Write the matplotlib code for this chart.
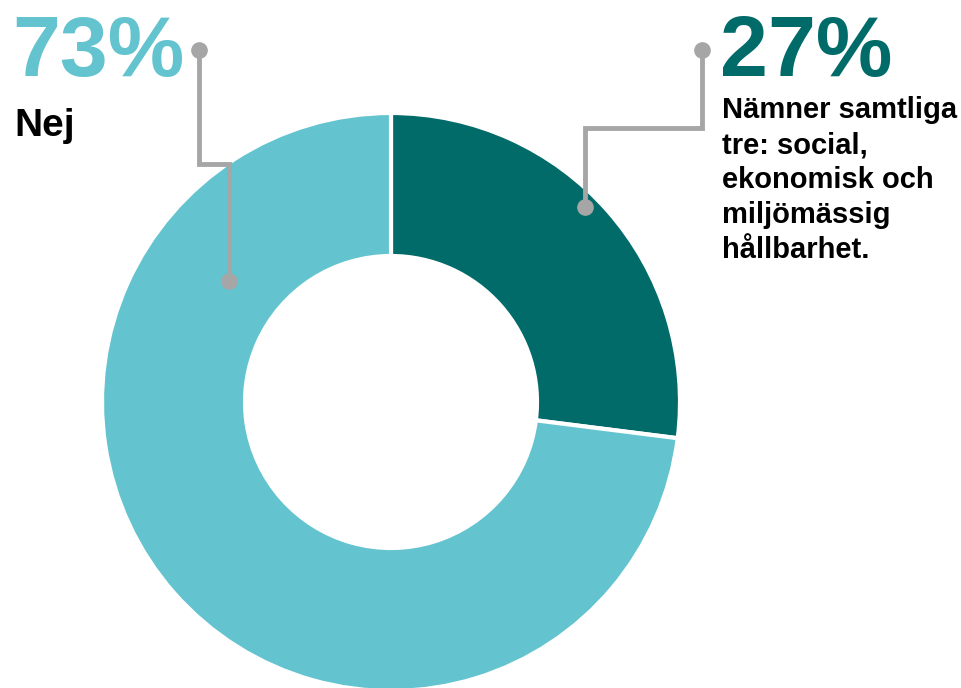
import matplotlib.pyplot as plt

# data
labels = ["Nämner samtliga tre", "Nej"]
values = [27, 73]
colors = ["#006B68", "#63C4CF"]
pct_labels = ["27%", "73%"]
desc_labels = ["Nämner samtliga\ntre: social,\nekonomisk och\nmiljömässig\nhållbarhet.", "Nej"]

W, H = 961, 688
fig = plt.figure(figsize=(W / 100, H / 100), dpi=100)
ax = fig.add_axes([0, 0, 1, 1])

cx, cy = 391, H - 402
ax.pie(values, colors=colors, startangle=90, counterclock=False,
       center=(cx, cy), radius=289, frame=True,
       wedgeprops=dict(width=143, edgecolor="white", linewidth=3))
ax.set_xlim(0, W)
ax.set_ylim(0, H)
ax.set_aspect("equal")
ax.axis("off")

grey = "#A6A6A6"


def leader(pts):
    xs = [p[0] for p in pts]
    ys = [H - p[1] for p in pts]
    ax.plot(xs, ys, color=grey, lw=3.5, solid_joinstyle="miter", zorder=5)
    ax.plot([xs[0], xs[-1]], [ys[0], ys[-1]], "o", color=grey, ms=11, zorder=6, lw=0)


# 73% leader
leader([(199, 50), (199, 164), (229, 164), (229, 281)])
# 27% leader
leader([(702, 50), (702, 128), (585, 128), (585, 207)])

font = "Liberation Sans"
fig.text(12 / W, 1 - 76 / H, pct_labels[1], color=colors[1], fontsize=62,
         fontweight="bold", family=font, va="baseline")
fig.text(14 / W, 1 - 136 / H, desc_labels[1], color="black", fontsize=28,
         fontweight="bold", family=font, va="baseline")
fig.text(720 / W, 1 - 76 / H, pct_labels[0], color=colors[0], fontsize=62,
         fontweight="bold", family=font, va="baseline")
fig.text(722 / W, 1 - 96 / H, desc_labels[0], color="black", fontsize=21,
         fontweight="bold", family=font, va="top", linespacing=1.32)

fig.savefig("out.png", dpi=100)
